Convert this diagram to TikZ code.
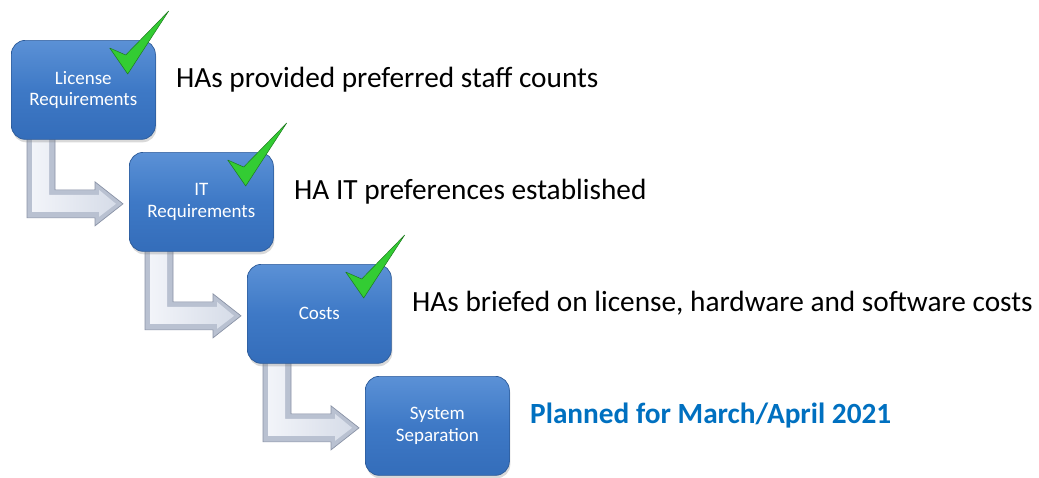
\documentclass[tikz,border=0pt]{standalone}
\usepackage{fontspec}
\setmainfont{Carlito}
\usetikzlibrary{calc,shadows}
\pgfdeclarelayer{background}
\pgfsetlayers{background,main}

\definecolor{boxtop}{HTML}{5B91D6}
\definecolor{boxmid}{HTML}{3E79C6}
\definecolor{boxbot}{HTML}{346DBA}
\definecolor{boxedge}{HTML}{2C5A98}
\definecolor{arrowedge}{HTML}{8A93A6}
\definecolor{arrowface}{HTML}{B9C1D1}
\definecolor{arrowinner}{HTML}{D6DCE8}
\definecolor{arrowlight}{HTML}{F2F4F9}
\definecolor{tickfill}{HTML}{33CC33}
\definecolor{tickedge}{HTML}{1E7A1E}
\definecolor{plannedblue}{HTML}{0070C0}

\tikzset{
  stepbox/.style={rectangle, rounded corners=14pt, minimum width=144pt,
    minimum height=99pt, top color=boxtop, bottom color=boxbot,
    middle color=boxmid,
    draw=boxedge, line width=0.7pt, text=white, align=center,
    font=\fontsize{19}{21.5}\selectfont, inner sep=0pt, anchor=north west,
    drop shadow={opacity=0.3, shadow xshift=1pt, shadow yshift=-3pt}},
  remark/.style={anchor=base west, inner sep=0pt,
    font=\fontsize{29.3}{34}\selectfont},
  bentarrow/.style={fill=arrowface, draw=arrowedge, line width=0.7pt,
    line join=miter},
  bentface/.style={left color=arrowlight, right color=arrowinner},
  tick/.style={fill=tickfill, draw=tickedge, line width=0.5pt,
    line join=round}
}

% bent connector from the lower left of box #1 into the west side of box #2
\newcommand\stepconnector[2]{%
  \path[bentarrow] let \p1=(#1.south west), \p2=(#2.west) in
    (\x1+16pt,\y1+10pt) -- (\x1+44pt,\y1+10pt) -- (\x1+44pt,\y2+12pt)
    -- (\x2-34pt,\y2+12pt) -- (\x2-34pt,\y2+20pt) -- (\x2-6pt,\y2-2pt)
    -- (\x2-34pt,\y2-24pt) -- (\x2-34pt,\y2-16pt) -- (\x1+16pt,\y2-16pt)
    -- cycle;
  \path[bentface] let \p1=(#1.south west), \p2=(#2.west) in
    (\x1+21pt,\y1+10pt) -- (\x1+38pt,\y1+10pt) -- (\x1+38pt,\y2+7pt)
    -- (\x2-30pt,\y2+7pt) -- (\x2-30pt,\y2+12pt) -- (\x2-13pt,\y2-2pt)
    -- (\x2-30pt,\y2-15pt) -- (\x2-30pt,\y2-10pt) -- (\x1+21pt,\y2-10pt)
    -- cycle;}

% green tick over the upper right corner of a box
\newcommand\donetick[1]{%
  \path[tick] let \p1=(#1.north east) in
    (\x1-46pt,\y1-8pt) -- (\x1-30pt,\y1-15pt) -- (\x1+13pt,\y1+29pt)
    -- (\x1-28pt,\y1-34pt) -- cycle;}

\begin{document}
\begin{tikzpicture}[x=1pt,y=-1pt]
  \useasboundingbox (0,0) rectangle (1039,477);

  \node[stepbox] (lic)  at (11,40)  {License\\Requirements};
  \node[stepbox] (it)   at (129,152) {IT\\Requirements};
  \node[stepbox] (cost) at (247,264) {Costs};
  \node[stepbox] (sep)  at (365,376) {System\\Separation};

  \begin{pgfonlayer}{background}
    \stepconnector{lic}{it}
    \stepconnector{it}{cost}
    \stepconnector{cost}{sep}
  \end{pgfonlayer}

  \donetick{lic}
  \donetick{it}
  \donetick{cost}

  \node[remark] (r1) at (176,87)  {HAs provided preferred staff counts};
  \node[remark] (r2) at (294,199) {HA IT preferences established};
  \node[remark] (r3) at (412,311) {HAs briefed on license, hardware and software costs};
  \node[remark, text=plannedblue, font=\fontsize{29.3}{34}\selectfont\bfseries]
    (r4) at (530,423) {Planned for March/April 2021};
\end{tikzpicture}
\end{document}
